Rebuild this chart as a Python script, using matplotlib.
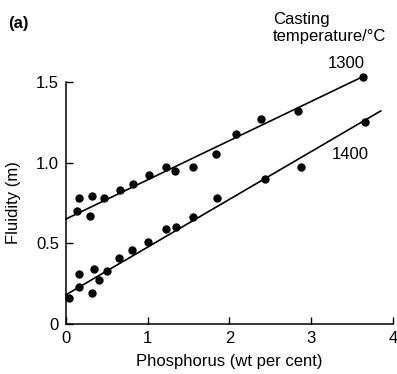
import numpy as np
import matplotlib
matplotlib.use("Agg")
import matplotlib.pyplot as plt

plt.rcParams['font.family'] = ['Liberation Sans', 'DejaVu Sans']

# casting temperature 1300 C
p1300 = [0.13, 0.16, 0.32, 0.29, 0.46, 0.66, 0.82, 1.01, 1.23, 1.33, 1.55,
         1.84, 2.08, 2.38, 2.84, 3.63]
f1300 = [0.70, 0.78, 0.79, 0.67, 0.78, 0.83, 0.87, 0.92, 0.97, 0.95, 0.97,
         1.05, 1.18, 1.27, 1.32, 1.53]
# casting temperature 1400 C
p1400 = [0.04, 0.16, 0.16, 0.32, 0.34, 0.40, 0.50, 0.65, 0.81, 1.00, 1.23,
         1.35, 1.55, 1.85, 2.43, 2.88, 3.66]
f1400 = [0.16, 0.23, 0.31, 0.19, 0.34, 0.27, 0.33, 0.41, 0.46, 0.51, 0.59,
         0.60, 0.66, 0.78, 0.90, 0.97, 1.25]
# fitted lines (end points)
fit1300_x = [0.0, 3.62]
fit1300_y = [0.65, 1.53]
fit1400_x = [0.0, 3.85]
fit1400_y = [0.18, 1.32]

fig = plt.figure(figsize=(3.97, 3.74), dpi=100)
ax = fig.add_axes([0.166, 0.134, 0.824, 0.647])

ax.plot(fit1300_x, fit1300_y, color='black', lw=1.2, clip_on=False)
ax.plot(fit1400_x, fit1400_y, color='black', lw=1.2, clip_on=False)
ax.plot(p1300, f1300, 'o', color='black', ms=5, clip_on=False)
ax.plot(p1400, f1400, 'o', color='black', ms=5, clip_on=False)

ax.set_xlim(0, 4)
ax.set_ylim(0, 1.5)
ax.set_xticks([0, 1, 2, 3, 4])
ax.set_yticks([0, 0.5, 1.0, 1.5])
ax.set_yticklabels(['0', '0.5', '1.0', '1.5'])
ax.tick_params(direction='in', length=5, width=1, labelsize=12, pad=5)
for s in ['top', 'right']:
    ax.spines[s].set_visible(False)
for s in ['left', 'bottom']:
    ax.spines[s].set_linewidth(1.1)

ax.set_xlabel('Phosphorus (wt per cent)', fontsize=12, labelpad=6)
ax.set_ylabel('Fluidity (m)', fontsize=12, labelpad=11)

fig.text(0.02, 0.937, '(a)', fontsize=12, fontweight='bold', va='center')
fig.text(0.688, 0.925, 'Casting\ntemperature/\u00b0C', fontsize=12,
         va='center', linespacing=1.1)
ax.text(3.66, 1.565, '1300', fontsize=12, ha='right', va='bottom')
ax.text(3.25, 1.05, '1400', fontsize=12, ha='left', va='center')

fig.savefig('out.png', dpi=100)
